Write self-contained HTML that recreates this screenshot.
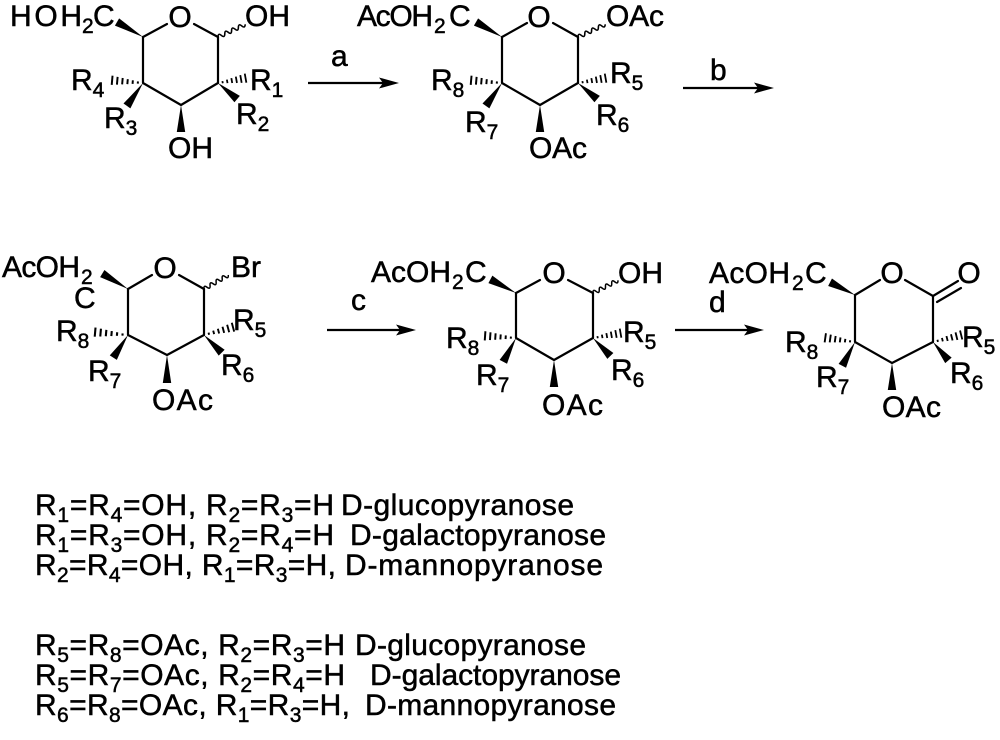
<!DOCTYPE html>
<html>
<head>
<meta charset="utf-8">
<style>
  html,body{margin:0;padding:0;background:#fff;}
  svg{display:block;}
  text{font-family:"Liberation Sans", Arial, sans-serif;font-size:30px;fill:#000;stroke:#000;stroke-width:0.5px;}
  .s{font-size:21px;}
  .tb text{font-size:30px;}
  .tb .s{font-size:21px;}
</style>
</head>
<body>
<svg width="1000" height="740" viewBox="0 0 1000 740" xmlns="http://www.w3.org/2000/svg">
<defs>
  <polygon id="w" points="0,0 30,-4.2 30,4.2" fill="#000"/>
  <g id="h" stroke="#000" stroke-width="1.9">
    <line x1="5" y1="-1.1" x2="5" y2="1.1"/>
    <line x1="10" y1="-1.8" x2="10" y2="1.8"/>
    <line x1="15" y1="-2.5" x2="15" y2="2.5"/>
    <line x1="20" y1="-3.2" x2="20" y2="3.2"/>
    <line x1="25" y1="-3.9" x2="25" y2="3.9"/>
    <line x1="30" y1="-4.6" x2="30" y2="4.6"/>
  </g>
  <path id="v" d="M0,0 Q1.75,-4 3.5,0 T7,0 T10.5,0 T14,0 T17.5,0 T21,0 T24.5,0 T28,0" fill="none" stroke="#000" stroke-width="1.5"/>
</defs>

<g stroke="#000" stroke-width="2.2" fill="none" stroke-linejoin="round" stroke-linecap="round">
  <!-- mol1 ring -->
  <polyline points="143,37 143,83 181,105 218,83 218,37"/>
  <line x1="143" y1="37" x2="167" y2="24"/>
  <line x1="194" y1="24" x2="218" y2="37"/>
  <!-- mol2 ring -->
  <polyline points="502,37 502,83 540,105 578,83 578,37"/>
  <line x1="502" y1="37" x2="527" y2="23"/>
  <line x1="553" y1="23" x2="578" y2="37"/>
  <!-- mol3 ring -->
  <polyline points="128,289 128,335 167,355 204,335 204,289"/>
  <line x1="128" y1="289" x2="152" y2="275"/>
  <line x1="179" y1="275" x2="204" y2="289"/>
  <!-- mol4 ring -->
  <polyline points="516,293 516,338 554,360 593,338 593,293"/>
  <line x1="516" y1="293" x2="540" y2="280"/>
  <line x1="568" y1="280" x2="593" y2="293"/>
  <!-- mol5 ring -->
  <polyline points="855,295 855,342 892,363 933,342 933,296"/>
  <line x1="855" y1="295" x2="880" y2="280"/>
  <line x1="905" y1="280" x2="933" y2="296"/>
  <line x1="933" y1="296" x2="958" y2="281"/>
  <line x1="937" y1="302" x2="961" y2="288"/>
  <!-- arrows -->
  <line x1="308" y1="83" x2="384" y2="83" stroke-linecap="butt"/>
  <line x1="683" y1="88" x2="759" y2="88" stroke-linecap="butt"/>
  <line x1="327" y1="330" x2="401" y2="330" stroke-linecap="butt"/>
  <line x1="675" y1="330" x2="749" y2="330" stroke-linecap="butt"/>
</g>
<g fill="#000">
  <polygon points="399,83 379,77.5 383,83 379,88.5"/>
  <polygon points="774,88 754,82.5 758,88 754,93.5"/>
  <polygon points="416,330 396,324.5 400,330 396,335.5"/>
  <polygon points="764,330 744,324.5 748,330 744,335.5"/>
</g>

<!-- mol1 stereo bonds -->
<use href="#w" transform="translate(143,37) rotate(210) scale(1,1)"/>
<use href="#w" transform="translate(218,83) rotate(40) scale(0.833,1)"/>
<use href="#w" transform="translate(143,83) rotate(125) scale(0.933,1)"/>
<use href="#w" transform="translate(181,105) rotate(90) scale(0.9,1)"/>
<use href="#h" transform="translate(218,83) rotate(-10) scale(0.933,1)"/>
<use href="#h" transform="translate(143,83) rotate(185) scale(1.033,1)"/>
<use href="#v" transform="translate(218,37) rotate(-25) scale(1.07,1)"/>

<!-- mol2 stereo bonds -->
<use href="#w" transform="translate(502,37) rotate(210) scale(1,1)"/>
<use href="#w" transform="translate(578,83) rotate(40) scale(0.833,1)"/>
<use href="#w" transform="translate(502,83) rotate(125) scale(0.933,1)"/>
<use href="#w" transform="translate(540,105) rotate(90) scale(0.9,1)"/>
<use href="#h" transform="translate(578,83) rotate(-10) scale(0.933,1)"/>
<use href="#h" transform="translate(502,83) rotate(185) scale(1.033,1)"/>
<use href="#v" transform="translate(578,37) rotate(-25) scale(1.07,1)"/>

<!-- mol3 stereo bonds -->
<use href="#w" transform="translate(128,289) rotate(211) scale(1,1)"/>
<use href="#w" transform="translate(204,335) rotate(45) scale(0.833,1)"/>
<use href="#w" transform="translate(128,335) rotate(123) scale(0.9,1)"/>
<use href="#w" transform="translate(167,355) rotate(90) scale(0.933,1)"/>
<use href="#h" transform="translate(204,335) rotate(-15) scale(1,1)"/>
<use href="#h" transform="translate(128,335) rotate(185) scale(1.1,1)"/>
<use href="#v" transform="translate(204,289) rotate(-30) scale(1,1)"/>

<!-- mol4 stereo bonds -->
<use href="#w" transform="translate(516,293) rotate(208) scale(0.967,1)"/>
<use href="#w" transform="translate(593,338) rotate(46) scale(0.833,1)"/>
<use href="#w" transform="translate(516,338) rotate(118) scale(0.9,1)"/>
<use href="#w" transform="translate(554,360) rotate(90) scale(0.9,1)"/>
<use href="#h" transform="translate(593,338) rotate(-10) scale(0.933,1)"/>
<use href="#h" transform="translate(516,338) rotate(184) scale(1.033,1)"/>
<use href="#v" transform="translate(593,293) rotate(-27) scale(1,1)"/>

<!-- mol5 stereo bonds -->
<use href="#w" transform="translate(855,295) rotate(207) scale(0.933,1)"/>
<use href="#w" transform="translate(933,342) rotate(50) scale(0.8,1)"/>
<use href="#w" transform="translate(855,342) rotate(118) scale(0.9,1)"/>
<use href="#w" transform="translate(892,363) rotate(90) scale(0.9,1)"/>
<use href="#h" transform="translate(933,342) rotate(-14) scale(0.967,1)"/>
<use href="#h" transform="translate(855,342) rotate(188) scale(1,1)"/>

<!-- mol1 labels -->
<text x="10" y="26" textLength="72">HOH</text>
<text x="82" y="33" class="s">2</text>
<text x="93" y="26">C</text>
<text x="180" y="27" text-anchor="middle">O</text>
<text x="245" y="26">OH</text>
<text x="250" y="90">R<tspan class="s" dy="7">1</tspan></text>
<text x="236" y="124">R<tspan class="s" dy="7">2</tspan></text>
<text x="71" y="90">R<tspan class="s" dy="7">4</tspan></text>
<text x="104" y="128">R<tspan class="s" dy="7">3</tspan></text>
<text x="168" y="158">OH</text>
<text x="331" y="66">a</text>

<!-- mol2 labels -->
<text x="357" y="26" textLength="76">AcOH</text>
<text x="434" y="33" class="s">2</text>
<text x="449" y="26">C</text>
<text x="539" y="27" text-anchor="middle">O</text>
<text x="606" y="26" textLength="58">OAc</text>
<text x="610" y="83">R<tspan class="s" dy="7">5</tspan></text>
<text x="596" y="125">R<tspan class="s" dy="7">6</tspan></text>
<text x="431" y="90">R<tspan class="s" dy="7">8</tspan></text>
<text x="465" y="132">R<tspan class="s" dy="7">7</tspan></text>
<text x="529" y="158" textLength="58">OAc</text>
<text x="710" y="80">b</text>

<!-- mol3 labels -->
<text x="2" y="277" textLength="78">AcOH</text>
<text x="81" y="284" class="s">2</text>
<text x="74" y="308">C</text>
<text x="165" y="278" text-anchor="middle">O</text>
<text x="231" y="277">Br</text>
<text x="233" y="330">R<tspan class="s" dy="7">5</tspan></text>
<text x="221" y="375">R<tspan class="s" dy="7">6</tspan></text>
<text x="56" y="341">R<tspan class="s" dy="7">8</tspan></text>
<text x="88" y="381">R<tspan class="s" dy="7">7</tspan></text>
<text x="152" y="410" textLength="61">OAc</text>
<text x="351" y="310">c</text>

<!-- mol4 labels -->
<text x="371" y="282" textLength="80">AcOH</text>
<text x="452" y="289" class="s">2</text>
<text x="465" y="282">C</text>
<text x="554" y="283" text-anchor="middle">O</text>
<text x="618" y="283">OH</text>
<text x="623" y="342">R<tspan class="s" dy="7">5</tspan></text>
<text x="611" y="380">R<tspan class="s" dy="7">6</tspan></text>
<text x="446" y="348">R<tspan class="s" dy="7">8</tspan></text>
<text x="476" y="385">R<tspan class="s" dy="7">7</tspan></text>
<text x="542" y="415" textLength="61">OAc</text>

<!-- mol5 labels -->
<text x="709" y="283" textLength="81">AcOH</text>
<text x="792" y="290" class="s">2</text>
<text x="805" y="283">C</text>
<text x="709" y="312">d</text>
<text x="892" y="283" text-anchor="middle">O</text>
<text x="969" y="283" text-anchor="middle">O</text>
<text x="962" y="347">R<tspan class="s" dy="7">5</tspan></text>
<text x="950" y="383">R<tspan class="s" dy="7">6</tspan></text>
<text x="785" y="352">R<tspan class="s" dy="7">8</tspan></text>
<text x="816" y="387">R<tspan class="s" dy="7">7</tspan></text>
<text x="882" y="417" textLength="59">OAc</text>

<!-- text block -->
<g class="tb">
  <text x="35" y="515" textLength="299">R<tspan class="s" dy="7">1</tspan><tspan dy="-7">=R</tspan><tspan class="s" dy="7">4</tspan><tspan dy="-7">=OH, R</tspan><tspan class="s" dy="7">2</tspan><tspan dy="-7">=R</tspan><tspan class="s" dy="7">3</tspan><tspan dy="-7">=H</tspan></text>
  <text x="341" y="515" textLength="233">D-glucopyranose</text>

  <text x="35" y="545" textLength="299">R<tspan class="s" dy="7">1</tspan><tspan dy="-7">=R</tspan><tspan class="s" dy="7">3</tspan><tspan dy="-7">=OH, R</tspan><tspan class="s" dy="7">2</tspan><tspan dy="-7">=R</tspan><tspan class="s" dy="7">4</tspan><tspan dy="-7">=H</tspan></text>
  <text x="350" y="545" textLength="256">D-galactopyranose</text>

  <text x="35" y="575" textLength="301">R<tspan class="s" dy="7">2</tspan><tspan dy="-7">=R</tspan><tspan class="s" dy="7">4</tspan><tspan dy="-7">=OH, R</tspan><tspan class="s" dy="7">1</tspan><tspan dy="-7">=R</tspan><tspan class="s" dy="7">3</tspan><tspan dy="-7">=H,</tspan></text>
  <text x="345" y="575" textLength="258">D-mannopyranose</text>

  <text x="35" y="655" textLength="310">R<tspan class="s" dy="7">5</tspan><tspan dy="-7">=R</tspan><tspan class="s" dy="7">8</tspan><tspan dy="-7">=OAc, R</tspan><tspan class="s" dy="7">2</tspan><tspan dy="-7">=R</tspan><tspan class="s" dy="7">3</tspan><tspan dy="-7">=H</tspan></text>
  <text x="355" y="655" textLength="231">D-glucopyranose</text>

  <text x="35" y="685" textLength="310">R<tspan class="s" dy="7">5</tspan><tspan dy="-7">=R</tspan><tspan class="s" dy="7">7</tspan><tspan dy="-7">=OAc, R</tspan><tspan class="s" dy="7">2</tspan><tspan dy="-7">=R</tspan><tspan class="s" dy="7">4</tspan><tspan dy="-7">=H</tspan></text>
  <text x="370" y="685" textLength="251">D-galactopyranose</text>

  <text x="35" y="715" textLength="315">R<tspan class="s" dy="7">6</tspan><tspan dy="-7">=R</tspan><tspan class="s" dy="7">8</tspan><tspan dy="-7">=OAc, R</tspan><tspan class="s" dy="7">1</tspan><tspan dy="-7">=R</tspan><tspan class="s" dy="7">3</tspan><tspan dy="-7">=H,</tspan></text>
  <text x="365" y="715" textLength="251">D-mannopyranose</text>
</g>
</svg>
</body>
</html>
